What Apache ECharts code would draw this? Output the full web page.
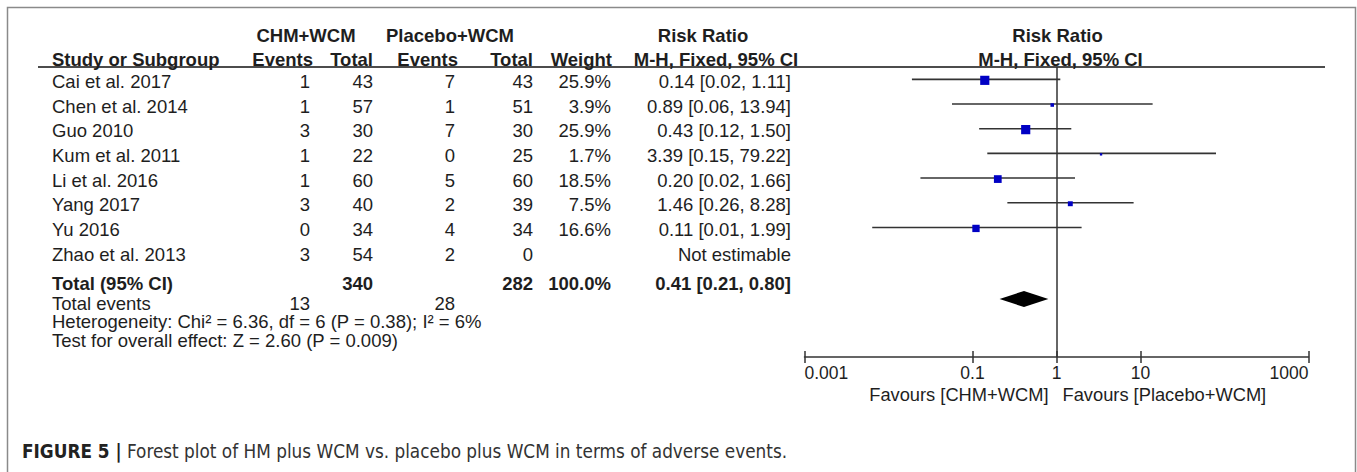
<!DOCTYPE html>
<html>
<head>
<meta charset="utf-8">
<title>Forest plot - adverse events</title>
<script src="https://cdn.jsdelivr.net/npm/echarts@6/dist/echarts.min.js"></script>
<style>
    html, body { margin: 0; padding: 0; background: #fff; }
    #main-chart { width: 1357px; height: 472px; }
</style>
</head>
<body>
<div id="main-chart"></div>
<script>
// =========================================
// 数据
// =========================================
const studies = ['Cai et al. 2017', 'Chen et al. 2014', 'Guo 2010', 'Kum et al. 2011', 'Li et al. 2016', 'Yang 2017', 'Yu 2016', 'Zhao et al. 2013'];
const chmEvents = [1, 1, 3, 1, 1, 3, 0, 3];
const chmTotal = [43, 57, 30, 22, 60, 40, 34, 54];
const placeboEvents = [7, 1, 7, 0, 5, 2, 4, 2];
const placeboTotal = [43, 51, 30, 25, 60, 39, 34, 0];
const weights = [25.9, 3.9, 25.9, 1.7, 18.5, 7.5, 16.6, null];
const riskRatio = [0.14, 0.89, 0.43, 3.39, 0.20, 1.46, 0.11, null];
const ciLow = [0.02, 0.06, 0.12, 0.15, 0.02, 0.26, 0.01, null];
const ciHigh = [1.11, 13.94, 1.50, 79.22, 1.66, 8.28, 1.99, null];
// left whisker ends as drawn (unrounded)
const whiskerLow = [0.019, 0.057, 0.12, 0.15, 0.024, 0.26, 0.0064, null];

const totalChm = 340;
const totalPlacebo = 282;
const totalWeight = 100.0;
const eventsChm = 13;
const eventsPlacebo = 28;
const pooledRR = 0.41;
const pooledLow = 0.21;
const pooledHigh = 0.80;

const tickValues = [0.001, 0.1, 1, 10, 1000];
const tickLabels = ['0.001', '0.1', '1', '10', '1000'];

const heterogeneityText = 'Heterogeneity: Chi\u00b2 = 6.36, df = 6 (P = 0.38); I\u00b2 = 6%';
const overallText = 'Test for overall effect: Z = 2.60 (P = 0.009)';
const favourLeft = 'Favours [CHM+WCM]';
const favourRight = 'Favours [Placebo+WCM]';
const captionText = 'Forest plot of HM plus WCM vs. placebo plus WCM in terms of adverse events.';

// =========================================
// 样式 / 布局
// =========================================
const FONT = "'Liberation Sans', Arial, sans-serif";
const CAP_FONT = "'Liberation Sans Narrow', 'Arial Narrow', 'DejaVu Sans Condensed', sans-serif";
const TXT = '#1e1e1e';
const LINE = '#333';
const BLUE = '#0000c4';
const FS = 18.5;
const TEXT_DY = 2;           // text sits a touch below the whisker
const DIAMOND_ROW = 9.4;

const col = { study: 52, e1: 310, n1: 373, e2: 455, n2: 533, w: 611, rr: 791 };

function fmt2(v) { return v.toFixed(2); }

function txt(text, x, y, align, bold, size, color) {
    return {
        type: 'text',
        silent: true,
        style: {
            text: text, x: x, y: y,
            font: (bold ? 'bold ' : '') + (size || FS) + 'px ' + FONT,
            fill: color || TXT,
            align: align || 'left', verticalAlign: 'middle',
            textAlign: align || 'left', textVerticalAlign: 'middle'
        }
    };
}

// =========================================
// 图表
// =========================================
const chart = echarts.init(document.getElementById('main-chart'), null, { renderer: 'svg' });

const studyData = [];
riskRatio.forEach((v, i) => {
    if (v != null) studyData.push([whiskerLow[i], ciHigh[i], v, i + 0.5, weights[i]]);
});

chart.setOption({
    animation: false,
    backgroundColor: '#fff',
    grid: { left: 804.5, right: 48.5, top: 67, bottom: 115 },
    xAxis: [
        {
            type: 'log', logBase: 10, min: 0.001, max: 1000, position: 'bottom',
            axisLine: { show: true, onZero: false, lineStyle: { color: LINE, width: 1.5 } },
            axisTick: { show: true, customValues: tickValues, length: 6, lineStyle: { color: LINE, width: 1.5 } },
            axisLabel: {
                customValues: tickValues, margin: 7, color: TXT, fontSize: 17.5, fontFamily: FONT,
                alignMinLabel: 'left', alignMaxLabel: 'right',
                formatter: v => tickLabels[tickValues.findIndex(t => Math.abs(Math.log10(t) - Math.log10(v)) < 1e-6)]
            },
            splitLine: { show: false }, minorTick: { show: false }
        },
        {
            type: 'log', logBase: 10, min: 0.001, max: 1000, position: 'bottom',
            axisLine: { show: false, onZero: false },
            axisTick: { show: true, inside: true, customValues: tickValues, length: 6, lineStyle: { color: LINE, width: 1.5 } },
            axisLabel: { show: false },
            splitLine: { show: false }
        }
    ],
    yAxis: { type: 'value', inverse: true, min: 0, max: 11.75, show: false },
    series: [
        {
            type: 'custom',
            name: 'studies',
            xAxisIndex: 0,
            encode: { x: [0, 1, 2], y: 3 },
            data: studyData,
            renderItem: function (params, api) {
                const a = api.coord([api.value(0), api.value(3)]);
                const b = api.coord([api.value(1), api.value(3)]);
                const c = api.coord([api.value(2), api.value(3)]);
                const side = 1.8 * Math.sqrt(api.value(4));
                return {
                    type: 'group',
                    children: [
                        { type: 'line', shape: { x1: a[0], y1: a[1], x2: b[0], y2: b[1] }, style: { stroke: LINE, lineWidth: 1.6 } },
                        { type: 'rect', shape: { x: c[0] - side / 2, y: c[1] - side / 2 + 1, width: side, height: side }, style: { fill: BLUE } }
                    ]
                };
            },
            markLine: {
                silent: true, symbol: 'none', animation: false,
                label: { show: false },
                lineStyle: { color: LINE, width: 1.5, type: 'solid' },
                emphasis: { disabled: true },
                data: [{ xAxis: 1 }]
            }
        },
        {
            type: 'custom',
            name: 'pooled',
            encode: { x: [0, 1, 2], y: 3 },
            data: [[pooledLow, pooledHigh, pooledRR, DIAMOND_ROW]],
            renderItem: function (params, api) {
                const a = api.coord([api.value(0), api.value(3)]);
                const b = api.coord([api.value(1), api.value(3)]);
                const c = api.coord([api.value(2), api.value(3)]);
                const h = 8;
                return {
                    type: 'polygon',
                    shape: { points: [[a[0], a[1]], [c[0], c[1] - h], [b[0], b[1]], [c[0], c[1] + h]] },
                    style: { fill: '#000' }
                };
            }
        }
    ]
});

// =========================================
// 表格文字 (rows follow the plot's y axis)
// =========================================
const rowY = r => chart.convertToPixel({ yAxisIndex: 0 }, r) + TEXT_DY;
const xOne = chart.convertToPixel({ xAxisIndex: 0 }, 1);
const g = [];

// frame + header rule
g.push({ type: 'rect', silent: true, shape: { x: 7.5, y: 7.5, width: 1348, height: 500 }, style: { fill: 'none', stroke: '#8a8a8a', lineWidth: 1.5 } });
g.push({ type: 'line', silent: true, shape: { x1: 38, y1: 67, x2: 1325, y2: 67 }, style: { stroke: '#111', lineWidth: 1.5 } });

// headers
const h1 = 35, h2 = 59;
g.push(txt('CHM+WCM', 306, h1, 'center', true));
g.push(txt('Placebo+WCM', 450, h1, 'center', true));
g.push(txt('Risk Ratio', 703, h1, 'center', true));
g.push(txt('Risk Ratio', xOne + 1, h1, 'center', true));
g.push(txt('Study or Subgroup', col.study, h2, 'left', true));
g.push(txt('Events', 313, h2, 'right', true));
g.push(txt('Total', 373, h2, 'right', true));
g.push(txt('Events', 458, h2, 'right', true));
g.push(txt('Total', 533, h2, 'right', true));
g.push(txt('Weight', 612, h2, 'right', true));
g.push(txt('M-H, Fixed, 95% CI', 716, h2, 'center', true));
g.push(txt('M-H, Fixed, 95% CI', xOne + 4, h2, 'center', true));

// study rows
studies.forEach((name, i) => {
    const y = rowY(i + 0.5);
    g.push(txt(name, col.study, y, 'left'));
    g.push(txt(String(chmEvents[i]), col.e1, y, 'right'));
    g.push(txt(String(chmTotal[i]), col.n1, y, 'right'));
    g.push(txt(String(placeboEvents[i]), col.e2, y, 'right'));
    g.push(txt(String(placeboTotal[i]), col.n2, y, 'right'));
    if (weights[i] != null) g.push(txt(weights[i].toFixed(1) + '%', col.w, y, 'right'));
    const rrText = riskRatio[i] != null
        ? fmt2(riskRatio[i]) + ' [' + fmt2(ciLow[i]) + ', ' + fmt2(ciHigh[i]) + ']'
        : 'Not estimable';
    g.push(txt(rrText, col.rr, y, 'right'));
});

// totals
const ty = rowY(8.7);
g.push(txt('Total (95% CI)', col.study, ty, 'left', true));
g.push(txt(String(totalChm), col.n1, ty, 'right', true));
g.push(txt(String(totalPlacebo), col.n2, ty, 'right', true));
g.push(txt(totalWeight.toFixed(1) + '%', col.w, ty, 'right', true));
g.push(txt(fmt2(pooledRR) + ' [' + fmt2(pooledLow) + ', ' + fmt2(pooledHigh) + ']', col.rr, ty, 'right', true));
g.push(txt('Total events', col.study, ty + 19.5, 'left'));
g.push(txt(String(eventsChm), col.e1, ty + 19.5, 'right'));
g.push(txt(String(eventsPlacebo), col.e2, ty + 19.5, 'right'));
g.push(txt(heterogeneityText, col.study, ty + 38, 'left'));
g.push(txt(overallText, col.study, ty + 57, 'left'));

// favours labels
g.push(txt(favourLeft, xOne - 8, 394, 'right', false, 18.3));
g.push(txt(favourRight, xOne + 6, 394, 'left', false, 18.3));

// caption
g.push({
    type: 'text', silent: true,
    style: {
        text: '{b|FIGURE 5 |} ' + captionText,
        x: 22, y: 451,
        font: '18.8px ' + CAP_FONT,
        fill: '#333',
        align: 'left', verticalAlign: 'middle', textAlign: 'left', textVerticalAlign: 'middle',
        rich: {
            b: { fontWeight: 'bold', fontSize: 18.8, fill: '#222', fontFamily: CAP_FONT }
        }
    }
});

chart.setOption({ graphic: { elements: g } });

window.addEventListener('resize', () => chart.resize());
</script>
</body>
</html>
